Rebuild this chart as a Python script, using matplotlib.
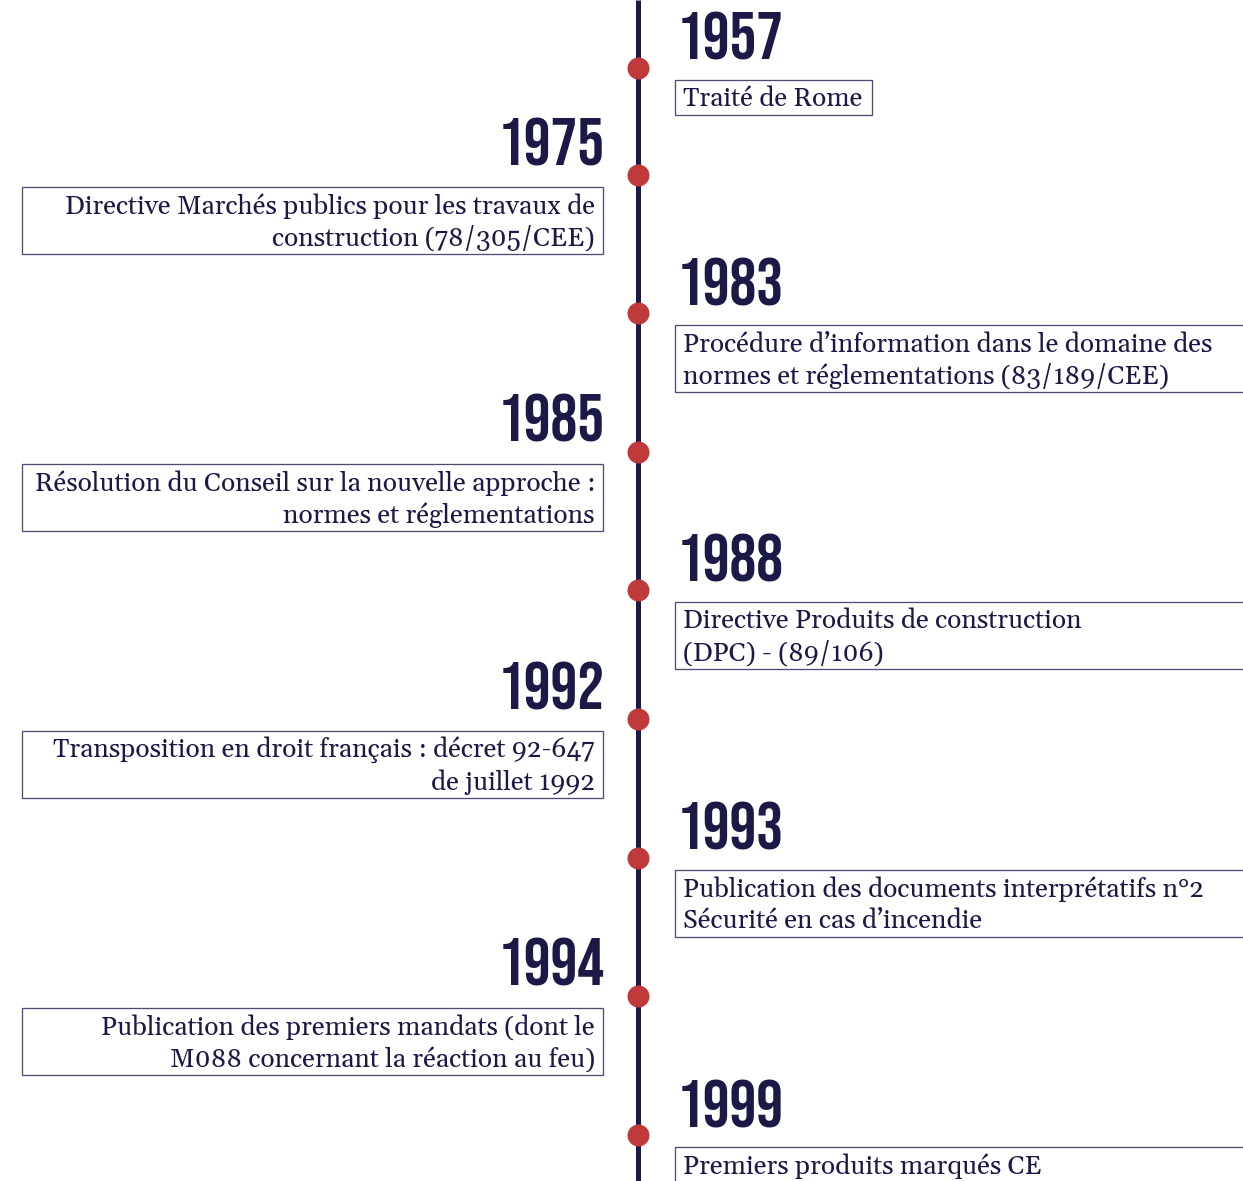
import matplotlib
matplotlib.use("Agg")
import matplotlib.pyplot as plt
from matplotlib import font_manager
from matplotlib.patches import Rectangle

# Timeline content
years = ["1957", "1975", "1983", "1985", "1988", "1992", "1993", "1994", "1999"]
events = [
    ["Traité de Rome"],
    ["Directive Marchés publics pour les travaux de", "construction (78/305/CEE)"],
    ["Procédure d\u2019information dans le domaine des", "normes et réglementations (83/189/CEE)"],
    ["Résolution du Conseil sur la nouvelle approche :", "normes et réglementations"],
    ["Directive Produits de construction", "(DPC) - (89/106)"],
    ["Transposition en droit français : décret 92-647", "de juillet 1992"],
    ["Publication des documents interprétatifs n°2", "Sécurité en cas d\u2019incendie"],
    ["Publication des premiers mandats (dont le", "M088 concernant la réaction au feu)"],
    ["Premiers produits marqués CE"],
]
sides = ["right", "left", "right", "left", "right", "left", "right", "left", "right"]

# layout (pixels)
W, H = 1243, 1181
dot_y = [68, 175, 313, 452, 590, 719, 858, 996, 1135]
line_x = 638

NAVY = "#1b1a47"
RED = "#c0393b"
EDGE = "#4d4b73"

available = {f.name for f in font_manager.fontManager.ttflist}
def pick(names):
    for n in names:
        if n in available:
            return n
    return "DejaVu Sans"

year_font = pick(["Bebas Neue", "Oswald", "Liberation Sans Narrow", "DejaVu Sans"])
body_font = pick(["Gelasio", "Libre Caslon Text", "Libre Baskerville", "DejaVu Serif"])

fig = plt.figure(figsize=(W / 100, H / 100), dpi=100)
ax = fig.add_axes([0, 0, 1, 1])
ax.set_xlim(0, W)
ax.set_ylim(H, 0)
ax.axis("off")

def px(v):
    return v * 72 / 100

YEAR_PX = 67
BODY_PX = 26.4

# vertical line
ax.plot([line_x, line_x], [0, H], color=NAVY, lw=px(5), solid_capstyle="butt", zorder=1)

for yr, ev, side, dy in zip(years, events, sides, dot_y):
    ax.scatter([line_x], [dy], s=px(22) ** 2, color=RED, zorder=3, linewidths=0)
    box_top = dy + 12
    box_h = 35 if len(ev) == 1 else 67
    if side == "right":
        ax.text(677, dy - 8, yr, ha="left", va="baseline", fontsize=px(YEAR_PX),
                color=NAVY, family=year_font)
        x0, x1 = 675, 1250
        if yr == "1957":
            x1 = 872
        ax.add_patch(Rectangle((x0, box_top), x1 - x0, box_h, fill=False,
                               edgecolor=EDGE, lw=px(1.3), zorder=2))
        for i, line in enumerate(ev):
            ax.text(683, box_top + 19 + 32 * i, line, ha="left", va="center",
                    fontsize=px(BODY_PX), color=NAVY, family=body_font)
    else:
        ax.text(605, dy - 10, yr, ha="right", va="baseline", fontsize=px(YEAR_PX),
                color=NAVY, family=year_font)
        x0, x1 = 22, 603
        ax.add_patch(Rectangle((x0, box_top), x1 - x0, box_h, fill=False,
                               edgecolor=EDGE, lw=px(1.3), zorder=2))
        for i, line in enumerate(ev):
            ax.text(595, box_top + 19 + 32 * i, line, ha="right", va="center",
                    fontsize=px(BODY_PX), color=NAVY, family=body_font)

fig.savefig("out.png", dpi=100)
